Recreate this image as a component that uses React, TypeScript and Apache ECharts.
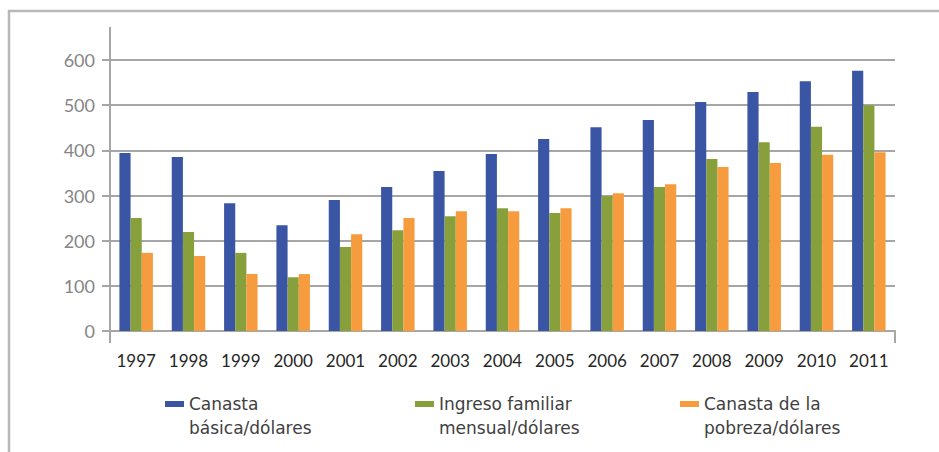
import React, { useEffect, useRef } from "react";
import * as echarts from "echarts";

const years = ["1997","1998","1999","2000","2001","2002","2003","2004","2005","2006","2007","2008","2009","2010","2011"];
const canastaBasica = [394, 385, 283, 234, 290, 319, 354, 392, 425, 451, 467, 507, 529, 553, 576];
const ingresoFamiliar = [250, 219, 173, 119, 186, 223, 254, 272, 261, 299, 319, 381, 418, 452, 500];
const canastaPobreza = [173, 166, 126, 126, 214, 250, 265, 265, 272, 305, 325, 363, 372, 390, 396];
const seriesNames = ["Canasta básica/dólares", "Ingreso familiar mensual/dólares", "Canasta de la pobreza/dólares"];
const legendLabels = ["Canasta\nbásica/dólares", "Ingreso familiar\nmensual/dólares", "Canasta de la\npobreza/dólares"];
const colors = ["#3A55A4", "#88A03C", "#F79C3E"];
const yTicks = { min: 0, max: 600, interval: 100 };

const FONT = "Lato, 'Open Sans', sans-serif";
const LEGEND_FONT = "'DejaVu Sans', sans-serif";

export default function App() {
  const ref = useRef<HTMLDivElement>(null);
  useEffect(() => {
    document.body.style.margin = "0";
    const chart = echarts.init(ref.current!, null, { renderer: "svg" });
    const legendLefts = [160, 410, 675];
    const legends = seriesNames.map((n, i) => ({
      data: [n],
      left: legendLefts[i],
      top: 363,
      orient: "horizontal",
      itemWidth: 19,
      itemHeight: 6,
      itemGap: 10,
      icon: "rect",
      selectedMode: false,
      formatter: () => "\u00A0\n" + legendLabels[i],
      textStyle: {
        fontFamily: LEGEND_FONT,
        fontSize: 17,
        color: "#404040",
        lineHeight: 24,
      },
    }));
    chart.setOption({
      animation: false,
      textStyle: { fontFamily: FONT },
      grid: { left: 110, right: 44, top: 60, bottom: 121, containLabel: false },
      legend: legends,
      xAxis: {
        type: "category",
        data: years,
        boundaryGap: true,
        axisLine: { show: true, lineStyle: { color: "#A6A6A6", width: 2 } },
        axisTick: { show: true, interval: (i: number) => i === 0, length: 12, lineStyle: { color: "#A6A6A6", width: 2 } },
        axisLabel: { color: "#262626", fontSize: 17, fontFamily: FONT, margin: 21, interval: 0 },
      },
      yAxis: {
        type: "value",
        min: yTicks.min,
        max: yTicks.max,
        interval: yTicks.interval,
        axisLine: { show: true, lineStyle: { color: "#A6A6A6", width: 2 } },
        axisTick: { show: true, length: 8, lineStyle: { color: "#A6A6A6", width: 2 } },
        axisLabel: { color: "#858585", fontSize: 18, fontFamily: FONT, margin: 15 },
        splitLine: { show: true, lineStyle: { color: "#A6A6A6", width: 2 } },
      },
      series: [canastaBasica, ingresoFamiliar, canastaPobreza].map((d, i) => ({
        type: "bar",
        name: seriesNames[i],
        data: d,
        barGap: "0%",
        barCategoryGap: "36%",
        itemStyle: { color: colors[i] },
      })),
      graphic: [
        { type: "rect", shape: { x: 9, y: 11, width: 960, height: 480 }, style: { fill: "none", stroke: "#B8B8B8", lineWidth: 2.5 } },
        { type: "line", shape: { x1: 110, y1: 27, x2: 110, y2: 60 }, style: { stroke: "#A6A6A6", lineWidth: 2 } },
      ],
    });
    return () => chart.dispose();
  }, []);
  return <div ref={ref} style={{ width: 939, height: 452 }} />;
}
